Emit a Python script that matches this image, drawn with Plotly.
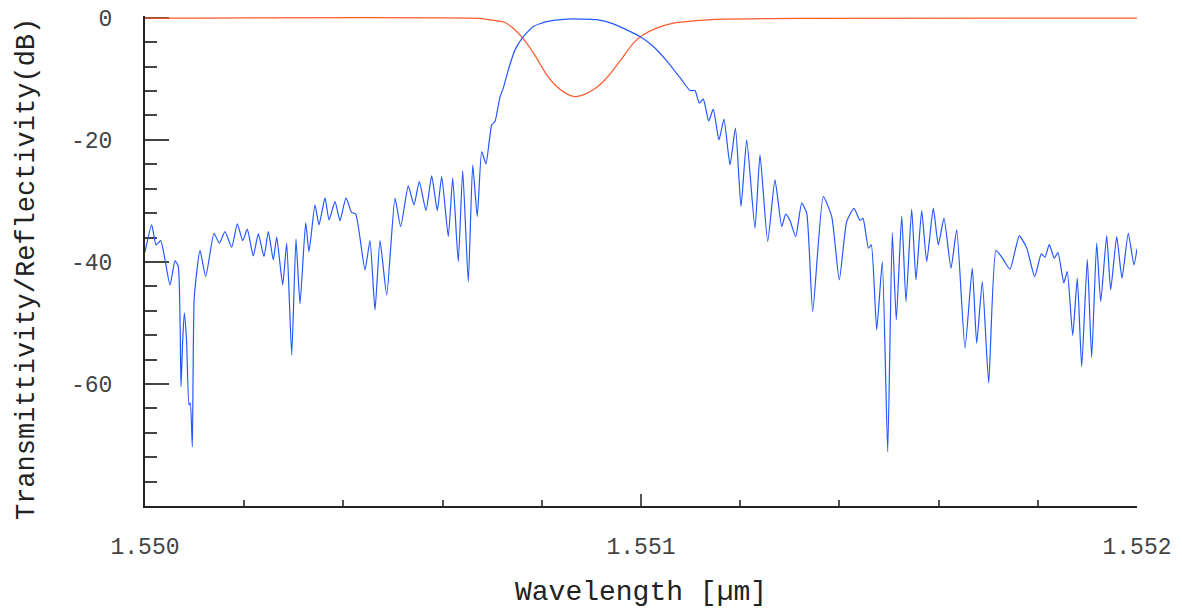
import plotly.graph_objects as go

# Transmittivity (blue) - wavelength in nm, level in dB
trans_wl_nm = [
    1550.0000, 1550.0135, 1550.0222, 1550.0317, 1550.0504, 1550.0605, 1550.0671, 1550.0726,
    1550.0756, 1550.0792, 1550.0837, 1550.0887, 1550.0913, 1550.0954, 1550.0994, 1550.1109,
    1550.1224, 1550.1391, 1550.1498, 1550.1613, 1550.1748, 1550.1861, 1550.1970, 1550.2062,
    1550.2183, 1550.2284, 1550.2399, 1550.2486, 1550.2587, 1550.2655, 1550.2776, 1550.2857,
    1550.2958, 1550.3044, 1550.3125, 1550.3240, 1550.3306, 1550.3427, 1550.3508, 1550.3629,
    1550.3710, 1550.3831, 1550.3931, 1550.4052, 1550.4167, 1550.4248, 1550.4435, 1550.4536,
    1550.4637, 1550.4738, 1550.4873, 1550.5040, 1550.5155, 1550.5308, 1550.5423, 1550.5530,
    1550.5665, 1550.5780, 1550.5893, 1550.5982, 1550.6115, 1550.6204, 1550.6316, 1550.6405,
    1550.6518, 1550.6607, 1550.6699, 1550.6788, 1550.6875, 1550.6990, 1550.7056, 1550.7157,
    1550.7224, 1550.7325, 1550.7460, 1550.7627, 1550.7829, 1550.8099, 1550.8502, 1550.9107,
    1550.9442, 1550.9712, 1550.9980, 1551.0248, 1551.0518, 1551.0820, 1551.0988, 1551.1089,
    1551.1175, 1551.1256, 1551.1365, 1551.1457, 1551.1572, 1551.1673, 1551.1794, 1551.1905,
    1551.2016, 1551.2131, 1551.2298, 1551.2399, 1551.2554, 1551.2701, 1551.2837, 1551.2917,
    1551.3004, 1551.3119, 1551.3240, 1551.3341, 1551.3462, 1551.3675, 1551.3845, 1551.3998,
    1551.4147, 1551.4294, 1551.4415, 1551.4476, 1551.4586, 1551.4643, 1551.4752, 1551.4865,
    1551.4974, 1551.5066, 1551.5147, 1551.5256, 1551.5343, 1551.5457, 1551.5544, 1551.5659,
    1551.5760, 1551.5893, 1551.5994, 1551.6109, 1551.6250, 1551.6365, 1551.6532, 1551.6679,
    1551.6768, 1551.6881, 1551.7010, 1551.7157, 1551.7288, 1551.7439, 1551.7627, 1551.7776,
    1551.7937, 1551.8070, 1551.8145, 1551.8232, 1551.8330, 1551.8407, 1551.8524, 1551.8594,
    1551.8704, 1551.8796, 1551.8885, 1551.8998, 1551.9086, 1551.9187, 1551.9268, 1551.9389,
    1551.9469, 1551.9591, 1551.9697, 1551.9824, 1551.9939, 1552.0000,
]
trans_db = [
    -38.36, -33.93, -37.21, -36.51, -43.77, -39.79, -40.77, -60.44,
    -53.61, -48.36, -52.79, -63.44, -63.11, -70.28, -45.69, -38.15,
    -42.41, -35.30, -36.93, -35.03, -37.59, -33.77, -36.51, -34.64,
    -39.02, -35.41, -39.13, -35.03, -39.67, -35.95, -43.77, -36.93,
    -55.25, -36.28, -46.89, -33.56, -38.31, -30.66, -33.93, -29.51,
    -33.11, -30.11, -33.23, -29.51, -31.92, -32.13, -41.31, -36.51,
    -47.87, -36.51, -45.41, -29.56, -34.21, -27.54, -30.66, -26.84,
    -31.59, -25.90, -31.59, -26.02, -35.85, -26.28, -39.95, -25.03,
    -43.23, -24.10, -32.57, -21.92, -23.93, -17.54, -17.00, -12.95,
    -11.52, -8.52, -5.25, -3.07, -1.43, -0.61, -0.20, -0.30,
    -0.98, -1.97, -3.07, -4.70, -7.05, -10.16, -11.92, -11.92,
    -13.98, -13.33, -16.89, -14.97, -20.00, -16.61, -24.10, -18.08,
    -30.93, -20.00, -34.48, -22.46, -36.67, -26.56, -34.21, -32.18,
    -33.23, -35.85, -30.38, -32.02, -48.15, -29.30, -32.57, -42.95,
    -33.39, -31.23, -33.20, -32.87, -37.75, -37.21, -51.15, -40.00,
    -71.10, -35.25, -49.51, -32.46, -46.51, -31.36, -42.95, -31.59,
    -39.95, -31.20, -37.21, -32.84, -41.03, -34.75, -54.15, -41.03,
    -53.33, -43.23, -59.84, -38.11, -39.39, -41.20, -35.74, -37.70,
    -42.41, -38.69, -39.23, -37.13, -39.39, -38.48, -43.44, -41.59,
    -52.05, -42.67, -57.16, -39.56, -55.66, -36.93, -46.51, -35.74,
    -44.59, -35.85, -42.67, -35.30, -40.49, -37.87,
]

# Reflectivity (red)
refl_wl_nm = [
    1550.0000, 1550.6754, 1550.6956, 1550.7258, 1550.7494, 1550.7695, 1550.7897, 1550.8099,
    1550.8300, 1550.8502, 1550.8669, 1550.8837, 1550.9038, 1550.9240, 1550.9442, 1550.9643,
    1550.9845, 1551.0046, 1551.0316, 1551.0651, 1551.1054, 1551.1659, 1551.3205, 1552.0000,
]
refl_db = [
    -0.05, -0.10, -0.33, -0.77, -2.25, -4.15, -6.61, -9.34,
    -11.26, -12.46, -12.90, -12.62, -11.80, -10.44, -8.52, -6.34,
    -4.15, -2.79, -1.69, -0.87, -0.49, -0.21, -0.08, -0.05,
]

y_tick_vals = [0, -20, -40, -60]
y_tick_text = ["0", "-20", "-40", "-60"]
x_tick_vals = [1.550, 1.551, 1.552]
x_tick_text = ["1.550", "1.551", "1.552"]
x_title = "Wavelength [µm]"
y_title = "Transmittivity/Reflectivity(dB)"

trans_wl_um = [w / 1000.0 for w in trans_wl_nm]
refl_wl_um = [w / 1000.0 for w in refl_wl_nm]

FONT = "Liberation Mono, DejaVu Sans Mono, monospace"

fig = go.Figure()
fig.add_trace(go.Scatter(
    x=refl_wl_um, y=refl_db, mode="lines", name="Reflectivity",
    line=dict(color="#ff5a2e", width=1.2, shape="spline", smoothing=0.6),
))
fig.add_trace(go.Scatter(
    x=trans_wl_um, y=trans_db, mode="lines", name="Transmittivity",
    line=dict(color="#2458ff", width=1.2, shape="spline", smoothing=0.5),
))

fig.update_layout(
    width=1182, height=609,
    margin=dict(l=145, r=45, t=16, b=103),
    paper_bgcolor="white", plot_bgcolor="white",
    showlegend=False,
    font=dict(family=FONT, color="#333333"),
)
fig.update_xaxes(
    range=[1.550, 1.552], automargin=False, layer="below traces",
    tickvals=x_tick_vals, ticktext=x_tick_text,
    ticks="inside", ticklen=12, tickwidth=1.5, tickcolor="#555555",
    minor=dict(dtick=0.0002, tick0=1.550, ticks="inside", ticklen=6, tickwidth=1.5, tickcolor="#555555"),
    showline=True, linecolor="#222222", linewidth=2,
    showgrid=False, zeroline=False,
    tickfont=dict(family=FONT, size=23, color="#444444"),
    ticklabelstandoff=18,
)
fig.update_yaxes(
    range=[-80, 0.3], automargin=False, layer="below traces",
    tickvals=y_tick_vals, ticktext=y_tick_text,
    ticks="inside", ticklen=24, tickwidth=1.5, tickcolor="#444444",
    minor=dict(dtick=4, tick0=0, ticks="inside", ticklen=12, tickwidth=1.5, tickcolor="#444444"),
    showline=True, linecolor="#222222", linewidth=2,
    showgrid=False, zeroline=False,
    tickfont=dict(family=FONT, size=23, color="#444444"),
    ticklabelstandoff=26,
)

fig.add_annotation(
    text=x_title, xref="paper", yref="paper", x=0.5, y=0,
    xanchor="center", yanchor="middle", yshift=-86, showarrow=False,
    font=dict(family=FONT, size=28, color="#222222"),
)
fig.add_annotation(
    text=y_title, xref="paper", yref="paper", x=0, y=0.4836,
    xanchor="center", yanchor="middle", xshift=-118, textangle=-90, showarrow=False,
    font=dict(family=FONT, size=27, color="#222222"),
)

fig.write_html(
    "out.html",
    config={"displayModeBar": False},
    post_script="document.body.style.margin='0';document.body.style.overflow='hidden';",
)
